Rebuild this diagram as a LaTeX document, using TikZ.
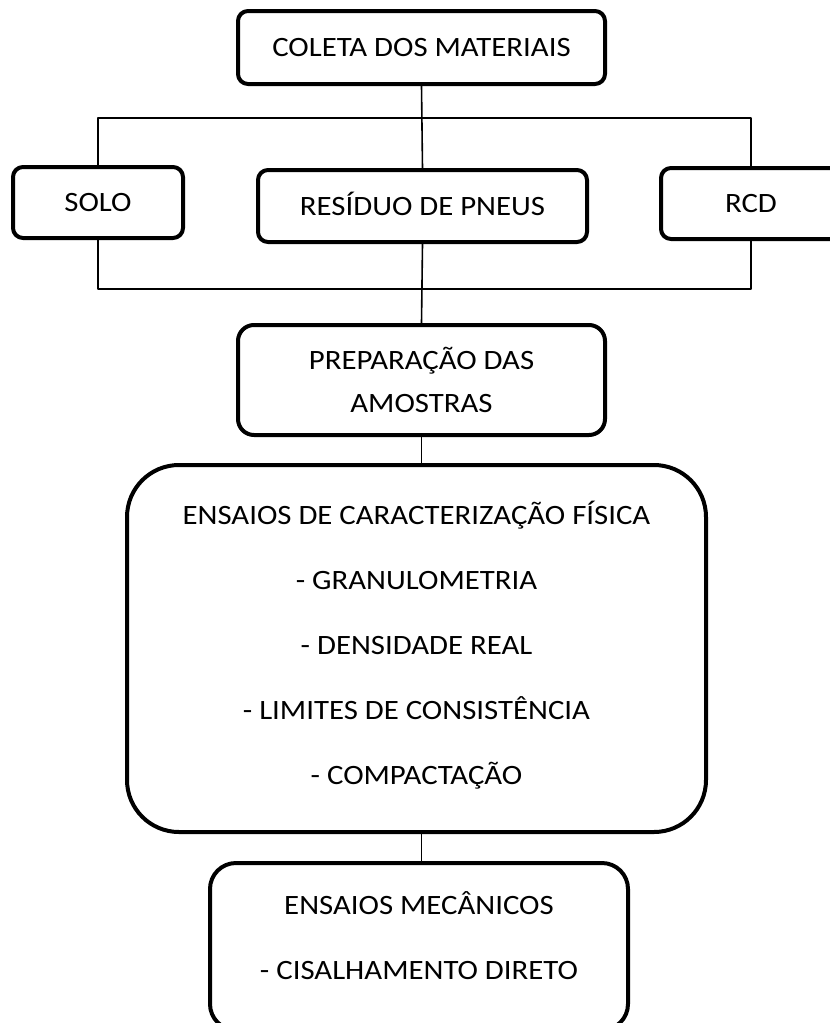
\documentclass[tikz,border=0pt]{standalone}
\usepackage{fontspec}
\setmainfont{Carlito}[FakeStretch=1.1]
\tikzset{
	caixa/.style={draw, line width=4pt, rounded corners=10pt, inner sep=0pt, align=center},
	linha/.style={caixa, text height=18pt, text depth=0pt},
	liga/.style={line width=1.6pt}
}
\begin{document}
\begin{tikzpicture}[x=1pt, y=-1pt, font=\fontsize{28}{34}\selectfont, line join=round]
	\def\W{830} \def\H{1023}
	\clip (0,0) rectangle (\W,\H);
	\node[linha, minimum width=367, minimum height=73] (coleta) at (421.5,47.5) {COLETA DOS MATERIAIS};
	\node[linha, minimum width=170, minimum height=71] (solo) at (98,202.5) {SOLO};
	\node[linha, minimum width=329, minimum height=72] (residuo) at (422.5,206) {RESÍDUO DE PNEUS};
	\node[linha, minimum width=180, minimum height=71] (rcd) at (751,203.5) {RCD};
	\node[caixa, rounded corners=16pt, minimum width=367, minimum height=110,
		font=\fontsize{28}{43}\selectfont] (prep) at (421.5,380) {PREPARAÇÃO DAS\\AMOSTRAS};
	\node[caixa, rounded corners=52pt, minimum width=579, minimum height=367, text depth=12pt,
		font=\fontsize{28}{65}\selectfont] (fisica) at (416.5,648.5)
		{ENSAIOS DE CARACTERIZAÇÃO FÍSICA\\- GRANULOMETRIA\\- DENSIDADE REAL\\- LIMITES DE CONSISTÊNCIA\\- COMPACTAÇÃO};
	\node[caixa, rounded corners=26pt, minimum width=418, minimum height=167, text depth=22pt,
		font=\fontsize{28}{65}\selectfont] (mecanicos) at (419,946.5)
		{ENSAIOS MECÂNICOS\\- CISALHAMENTO DIRETO};
	% ligacoes
	\draw[liga] (coleta.south) -- (residuo.north);
	\draw[liga] (solo.north) -- ++(0,-47) -| (rcd.north);
	\draw[liga] (solo.south) -- ++(0,49) -| (rcd.south);
	\draw[liga] (residuo.south) -- (prep.north);
	\draw[liga] (prep.south) -- (prep.south |- fisica.north);
	\draw[liga] (prep.south |- fisica.south) -- (prep.south |- mecanicos.north);
\end{tikzpicture}
\end{document}
